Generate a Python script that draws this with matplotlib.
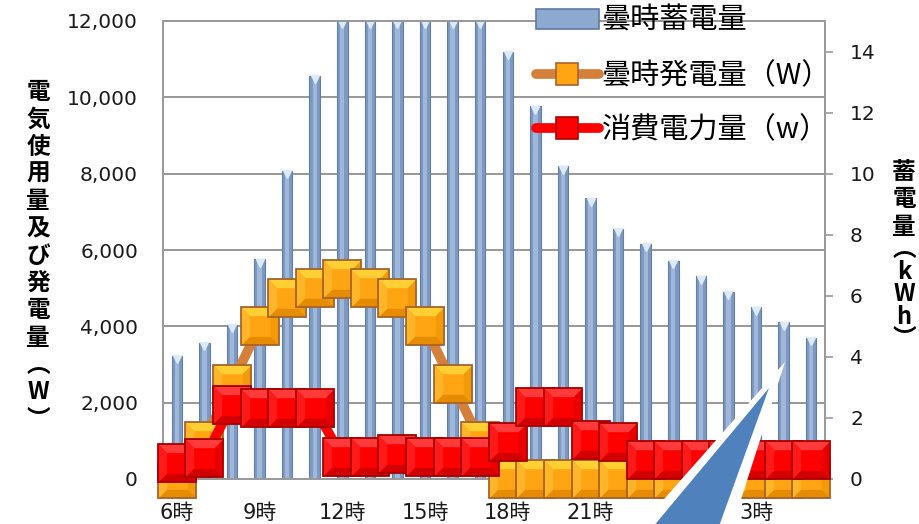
import matplotlib
matplotlib.use('Agg')
import matplotlib.pyplot as plt
import numpy as np
from matplotlib.path import Path
from matplotlib.patches import Patch, Polygon
from matplotlib.lines import Line2D
from matplotlib.transforms import ScaledTranslation

plt.rcParams['font.family'] = ['DejaVu Sans', 'Noto Sans CJK JP']

# hourly data, 6時 through 5時 the next morning
hours = ['6時', '7時', '8時', '9時', '10時', '11時', '12時', '13時', '14時',
         '15時', '16時', '17時', '18時', '19時', '20時', '21時', '22時',
         '23時', '0時', '1時', '2時', '3時', '4時', '5時']
storage_kwh = [4.04, 4.47, 5.06, 7.2, 10.1, 13.2, 15.0, 15.0, 15.0, 15.0,
               15.0, 15.0, 14.0, 12.2, 10.25, 9.2, 8.2, 7.7, 7.15, 6.64,
               6.14, 5.62, 5.13, 4.63]
generation_w = [0, 1000, 2500, 4000, 4750, 5000, 5250, 5000, 4750, 4000,
                2500, 1000, 0, 0, 0, 0, 0, 0, 0, 0, 0, 0, 0, 0]
consumption_w = [420, 560, 1930, 1860, 1860, 1860, 570, 570, 650, 570,
                 570, 570, 980, 1890, 1890, 1030, 970, 500, 500, 500, 500,
                 500, 500, 500]

left_ticks = [0, 2000, 4000, 6000, 8000, 10000, 12000]
right_ticks = [0, 2, 4, 6, 8, 10, 12, 14]
label_every = 3

left_title = ['電', '気', '使', '用', '量', '及', 'び', '発', '電', '量', '︵', 'W', '︶']
right_title = ['蓄', '電', '量', '︵', 'k', 'W', 'h', '︶']
legend_labels = ['曇時蓄電量', '曇時発電量（W）', '消費電力量（w）']

W, H = 919, 524
fig = plt.figure(figsize=(W / 100, H / 100), dpi=100)
ax2 = fig.add_axes([163 / W, 1 - 479 / H, 662 / W, 458 / H])
ax = ax2.twinx()
ax.yaxis.tick_left()
ax2.yaxis.tick_right()
ax.set_zorder(2)
ax2.set_zorder(1)
ax.patch.set_visible(False)

x = np.arange(len(hours))
ax.set_xlim(-0.5, len(hours) - 0.5)
ax.set_ylim(0, 12000)
ax2.set_ylim(0, 15)

# horizontal grid follows the left (W) scale
scale = 15 / 12000
for v in left_ticks[1:]:
    ax2.axhline(v * scale, color='#8F8F8F', lw=1.3, zorder=0)

# stored energy bars with a lighter centre strip and a small cap
ax2.bar(x, storage_kwh, width=0.38, color='#7D99C1', edgecolor='#647FA3',
        linewidth=0.8, zorder=2)
ax2.bar(x, storage_kwh, width=0.16, color='#9FB8DA', linewidth=0, zorder=2.1)
cap = ax2.transData + ScaledTranslation(0, -2.5 / 72, fig.dpi_scale_trans)
ax2.plot(x, storage_kwh, 'v', ms=5.5, color='#DDEBF8', transform=cap,
         zorder=2.2, clip_on=False)

# bevelled square markers
inner = 0.55
TOP = Path([(-1, 1), (1, 1), (inner, inner), (-inner, inner), (-1, 1)],
           [Path.MOVETO, Path.LINETO, Path.LINETO, Path.LINETO, Path.CLOSEPOLY])
BOTTOM = Path([(-1, -1), (1, -1), (inner, -inner), (-inner, -inner), (-1, -1)],
              [Path.MOVETO, Path.LINETO, Path.LINETO, Path.LINETO, Path.CLOSEPOLY])
LEFT = Path([(-1, -1), (-1, 1), (-inner, inner), (-inner, -inner), (-1, -1)],
            [Path.MOVETO, Path.LINETO, Path.LINETO, Path.LINETO, Path.CLOSEPOLY])
RIGHT = Path([(1, -1), (1, 1), (inner, inner), (inner, -inner), (1, -1)],
             [Path.MOVETO, Path.LINETO, Path.LINETO, Path.LINETO, Path.CLOSEPOLY])


def bevel_squares(axis, xs, ys, colors, size, z):
    face, top, left, right, bottom, edge = colors
    for k, (xi, yi) in enumerate(zip(xs, ys)):
        zz = z + k * 0.01
        kw = dict(ls='none', ms=size, clip_on=False)
        axis.plot(xi, yi, marker='s', mfc=face, mew=0, zorder=zz, **kw)
        for shape, c in ((TOP, top), (LEFT, left), (RIGHT, right), (BOTTOM, bottom)):
            axis.plot(xi, yi, marker=shape, mfc=c, mew=0, zorder=zz + 0.001, **kw)
        axis.plot(xi, yi, marker='s', mfc='none', mec=edge, mew=1.3,
                  zorder=zz + 0.002, **kw)


orange = ('#FFA412', '#FFCF33', '#FFB52A', '#F29A0A', '#E58C04', '#A5642C')
red = ('#FF0000', '#FF3A3A', '#FF1A1A', '#E80000', '#D20000', '#A80000')

ax.plot(x, generation_w, color='#D4803A', lw=7, zorder=3, clip_on=False)
bevel_squares(ax, x, generation_w, orange, 27, 4)
ax.plot(x, consumption_w, color='#FF0000', lw=7, zorder=5, clip_on=False)
bevel_squares(ax, x, consumption_w, red, 27, 6)

# axes styling
for a in (ax, ax2):
    for s in a.spines.values():
        s.set_color('#9A9A9A')
        s.set_linewidth(1.3)
ax.set_yticks(left_ticks)
ax.set_yticklabels([f'{v:,}' for v in left_ticks])
ax.tick_params(axis='y', length=0, pad=18, labelsize=14.5, labelcolor='#1A1A1A')
ax2.set_yticks(right_ticks)
ax2.tick_params(axis='y', length=6, width=1.2, color='#9A9A9A', pad=12,
                labelsize=14.5, labelcolor='#1A1A1A')
ax2.set_xticks(x[::label_every])
ax2.set_xticklabels(hours[::label_every])
ax2.tick_params(axis='x', length=0, pad=17, labelsize=15, labelcolor='#1A1A1A')
ax.tick_params(axis='x', length=0, labelbottom=False)

# vertical axis titles, one character per line
for i, ch in enumerate(left_title):
    fig.text(38 / W, 1 - (92 + 27.3 * i) / H, ch, ha='center', va='center',
             fontsize=17, fontweight='bold', family=['Noto Sans CJK JP'])
for i, ch in enumerate(right_title):
    step = 27.3 if i < 3 else 22.5
    yy = 172 + 27.3 * min(i, 2) + step * max(i - 2, 0)
    fig.text(904 / W, 1 - yy / H, ch, ha='center', va='center',
             fontsize=17, fontweight='bold', family=['Noto Sans CJK JP'])

handles = [
    Patch(facecolor='#8DA9CF', edgecolor='#5F7A9E', linewidth=1.2),
    Line2D([], [], color='#D4803A', lw=7, solid_capstyle='round', marker='s',
           ms=16, mfc='#FFA412', mec='#A5642C', mew=1.2),
    Line2D([], [], color='#FF0000', lw=7, solid_capstyle='round', marker='s',
           ms=16, mfc='#FF0000', mec='#A80000', mew=1.2),
]
leg = ax.legend(handles, legend_labels, loc='upper left',
                bbox_to_anchor=(536 / W, 1 - 6 / H), bbox_transform=fig.transFigure,
                frameon=False, borderpad=0, borderaxespad=0, handlelength=2.15,
                handletextpad=0.1, labelspacing=0.85,
                prop={'family': ['Noto Sans CJK JP'], 'size': 21})
leg.set_zorder(10)

# callout pointer reaching in from below
outline = [(785, 362), (628, 540), (728, 540)]
wedge = [(769, 388), (642, 540), (714, 540)]
fig.add_artist(Polygon([(px / W, 1 - py / H) for px, py in outline],
                       closed=True, transform=fig.transFigure,
                       facecolor='white', edgecolor='none', zorder=20))
fig.add_artist(Polygon([(px / W, 1 - py / H) for px, py in wedge],
                       closed=True, transform=fig.transFigure,
                       facecolor='#4F81BD', edgecolor='none', zorder=21))

fig.savefig('out.png', dpi=100, facecolor='white')
